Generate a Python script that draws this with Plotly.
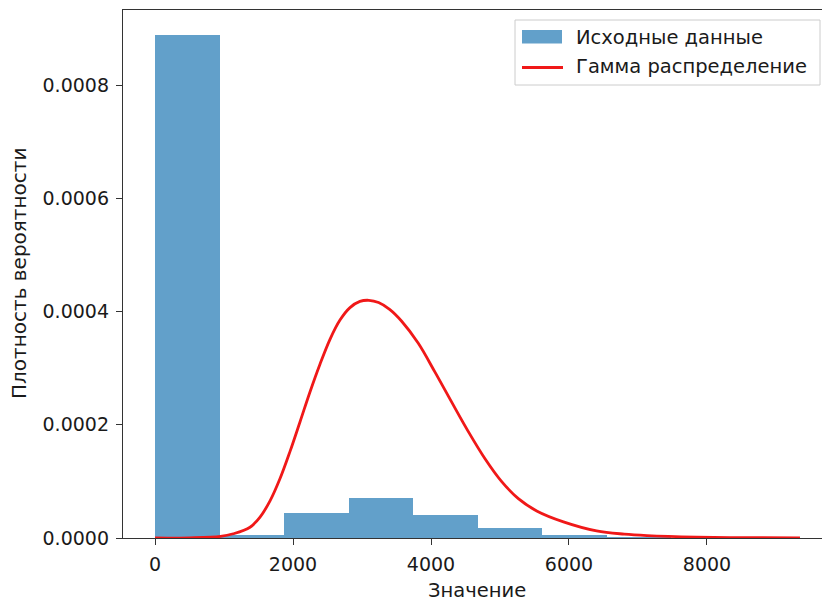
import plotly.graph_objects as go

# ---- data ----
bin_edges = [0, 934.8, 1869.6, 2804.4, 3739.2, 4674.0, 5608.8, 6543.6, 7478.4, 8413.2, 9348.0]
hist_density = [0.000888, 0.000006, 0.0000445, 0.0000703, 0.000041, 0.000017, 0.000005, 0.0000018, 0.0000008, 0.0000004]

gamma_x = [0, 500, 950, 1135, 1377, 1522, 1667, 1812, 1957, 2101, 2246, 2391, 2536, 2681,
           2826, 2970, 3100, 3240, 3400, 3575, 3816, 4058, 4300, 4541, 4783, 5025, 5266,
           5532, 5920, 6400, 6800, 7130, 7850, 8600, 9348]
gamma_y = [0, 0.0000003, 0.0000028, 0.0000075, 0.000019, 0.000037, 0.0000655, 0.000105,
           0.000153, 0.000205, 0.000258, 0.000307, 0.000351, 0.000385, 0.000407, 0.000418,
           0.000420, 0.000416, 0.000404, 0.000383, 0.000344, 0.000293, 0.000240, 0.000188,
           0.000140, 0.0000995, 0.0000695, 0.0000478, 0.0000285, 0.0000125, 0.0000068,
           0.0000043, 0.0000016, 0.0000005, 0.0000002]

x_ticks = [0, 2000, 4000, 6000, 8000]
y_ticks = [0, 0.0002, 0.0004, 0.0006, 0.0008]

label_hist = "Исходные данные"
label_gamma = "Гамма распределение"
x_title = "Значение"
y_title = "Плотность вероятности"

# ---- figure geometry ----
W, H = 822, 601
ML, MR, MT, MB = 123, 0, 10, 63
PW, PH = W - ML - MR, H - MT - MB

def px(x):
    return (x - ML) / PW

def py(y):
    return (H - MB - y) / PH

FONT = "DejaVu Sans"
FS_TICK = 19
FS_TXT = 19.5
TXT = "#1a1a1a"
BAR_COLOR = "rgba(31,119,180,0.7)"
LINE_COLOR = "#f01818"

lefts = bin_edges[:-1]
widths = [b - a for a, b in zip(bin_edges[:-1], bin_edges[1:])]

fig = go.Figure()
fig.add_trace(go.Bar(x=lefts, y=hist_density, width=widths, offset=0,
                     marker=dict(color=BAR_COLOR, line=dict(width=0)),
                     name=label_hist, showlegend=False))
fig.add_trace(go.Scatter(x=gamma_x, y=gamma_y, mode="lines",
                         line=dict(color=LINE_COLOR, width=2.8, shape="spline", smoothing=1.0),
                         name=label_gamma, showlegend=False))

fig.update_layout(
    width=W, height=H,
    margin=dict(l=ML, r=MR, t=MT, b=MB, pad=0),
    paper_bgcolor="white", plot_bgcolor="white",
    font=dict(family=FONT, size=FS_TICK, color=TXT),
    bargap=0,
    showlegend=False,
)
fig.update_xaxes(
    range=[-464, 9667], tickmode="array", tickvals=x_ticks,
    ticktext=[str(v) for v in x_ticks],
    showgrid=False, zeroline=False,
    showline=True, linecolor="#333", linewidth=1.4, mirror=True,
    ticks="outside", ticklen=6, tickwidth=1.2, tickcolor="#333",
    ticklabelstandoff=3,
    tickfont=dict(family=FONT, size=FS_TICK, color=TXT),
)
fig.update_yaxes(
    range=[0, 528 / 566000], tickmode="array", tickvals=y_ticks,
    ticktext=["%.4f" % v for v in y_ticks],
    showgrid=False, zeroline=False,
    showline=True, linecolor="#333", linewidth=1.4,
    ticks="outside", ticklen=6, tickwidth=1.2, tickcolor="#333",
    ticklabelstandoff=3,
    tickfont=dict(family=FONT, size=FS_TICK, color=TXT),
)

# axis titles
fig.add_annotation(text=x_title, xref="paper", yref="paper", x=px(477), y=py(590),
                   xanchor="center", yanchor="middle", showarrow=False,
                   font=dict(family=FONT, size=FS_TXT, color=TXT))
fig.add_annotation(text=y_title, xref="paper", yref="paper", x=px(19), y=py(274),
                   xanchor="center", yanchor="middle", showarrow=False, textangle=-90,
                   font=dict(family=FONT, size=20, color=TXT))

# legend (drawn box, patch, line and labels)
fig.add_shape(type="rect", xref="paper", yref="paper",
              x0=px(515), x1=px(820), y0=py(85), y1=py(20),
              line=dict(color="#cccccc", width=1), fillcolor="rgba(255,255,255,0.8)", layer="above")
fig.add_shape(type="rect", xref="paper", yref="paper",
              x0=px(522), x1=px(562), y0=py(43.5), y1=py(30),
              line=dict(width=0), fillcolor=BAR_COLOR, layer="above")
fig.add_shape(type="line", xref="paper", yref="paper",
              x0=px(522), x1=px(563), y0=py(67.5), y1=py(67.5),
              line=dict(color=LINE_COLOR, width=2.8), layer="above")
fig.add_annotation(text=label_hist, xref="paper", yref="paper", x=px(574), y=py(37.5),
                   xanchor="left", yanchor="middle", showarrow=False,
                   font=dict(family=FONT, size=FS_TXT, color=TXT))
fig.add_annotation(text=label_gamma, xref="paper", yref="paper", x=px(574), y=py(67),
                   xanchor="left", yanchor="middle", showarrow=False,
                   font=dict(family=FONT, size=FS_TXT, color=TXT))

fig.write_html("out.html")
